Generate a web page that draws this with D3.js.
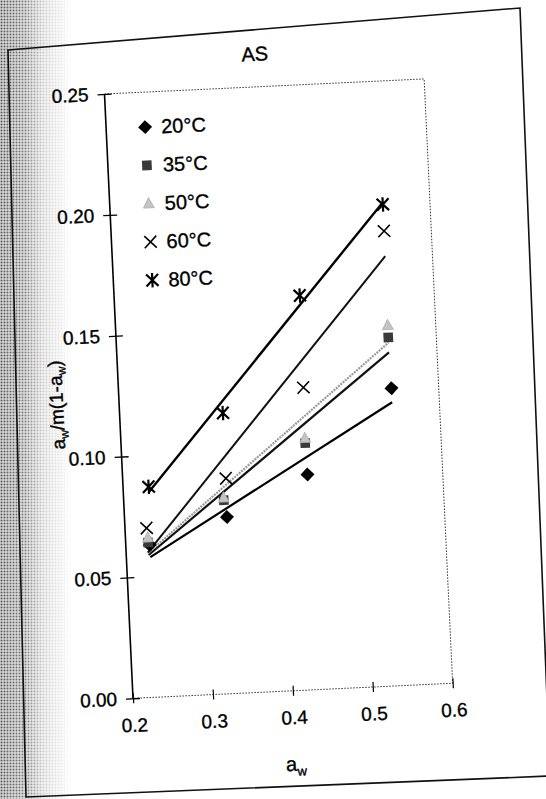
<!DOCTYPE html>
<html>
<head>
<meta charset="utf-8">
<script src="https://cdn.jsdelivr.net/npm/d3@7"></script>
<style>
  html, body { margin: 0; padding: 0; background: #fff; }
  svg { display: block; font-family: "Liberation Sans", Arial, sans-serif; }
  svg text { stroke: #000; stroke-width: 0.35px; }
</style>
</head>
<body>
<svg id="chart" width="546" height="799"></svg>
<script>
// Water activity (a_w) and a_w/m(1-a_w) for each storage temperature
const series = ["20°C", "35°C", "50°C", "60°C", "80°C"];
const aw20 = [0.230, 0.328, 0.431, 0.541];
const val20 = [0.063, 0.073, 0.089, 0.123];
const aw35 = [0.228, 0.325, 0.430, 0.540];
const val35 = [0.064, 0.080, 0.102, 0.144];
const aw50 = [0.228, 0.325, 0.430, 0.540];
const val50 = [0.066, 0.081, 0.104, 0.149];
const aw60 = [0.227, 0.329, 0.431, 0.541];
const val60 = [0.070, 0.089, 0.125, 0.188];
const aw80 = [0.232, 0.329, 0.432, 0.541];
const val80 = [0.087, 0.116, 0.163, 0.199];
const xTicks = [0.2, 0.3, 0.4, 0.5, 0.6];
const yTicks = [0.00, 0.05, 0.10, 0.15, 0.20, 0.25];

const awBySeries = [aw20, aw35, aw50, aw60, aw80];
const valBySeries = [val20, val35, val50, val60, val80];

const W = 320, H = 605;
const svg = d3.select("#chart");

// halftone shading along the left edge of the page
const defs = svg.append("defs");
const grad = defs.append("linearGradient").attr("id", "edge").attr("x1", 0).attr("x2", 1);
grad.append("stop").attr("offset", 0).attr("stop-color", "#fff").attr("stop-opacity", 1);
grad.append("stop").attr("offset", 0.35).attr("stop-color", "#fff").attr("stop-opacity", 0.75);
grad.append("stop").attr("offset", 0.6).attr("stop-color", "#fff").attr("stop-opacity", 0.3);
grad.append("stop").attr("offset", 1).attr("stop-color", "#fff").attr("stop-opacity", 0);
const dots = defs.append("pattern").attr("id", "dots").attr("width", 3).attr("height", 3)
  .attr("patternUnits", "userSpaceOnUse");
dots.append("rect").attr("width", 3).attr("height", 3).attr("fill", "#d6d6d6");
dots.append("circle").attr("cx", 1.5).attr("cy", 1.5).attr("r", 1.0).attr("fill", "#555");
const mask = defs.append("mask").attr("id", "edgeMask");
mask.append("rect").attr("width", 72).attr("height", 799).attr("fill", "url(#edge)");
svg.append("rect").attr("width", 72).attr("height", 799)
  .attr("fill", "url(#dots)").attr("mask", "url(#edgeMask)");

// page frame
svg.append("path")
  .attr("d", "M8,50 L520,8 L550,776 L26,797 Z")
  .attr("fill", "none").attr("stroke", "#111").attr("stroke-width", 1.6);

const g = svg.append("g").attr("transform", "translate(104.5,94) rotate(-2.7)");

const x = d3.scaleLinear().domain([0.2, 0.6]).range([0, W]);
const y = d3.scaleLinear().domain([0, 0.25]).range([H, 0]);

// dotted top, right and bottom edges of the plot area
g.append("path")
  .attr("d", `M0,0 H${W} V${H} H0`)
  .attr("fill", "none").attr("stroke", "#333").attr("stroke-width", 1)
  .attr("stroke-dasharray", "1.5,1.5");

// y axis: solid line with ticks crossing it
const yAxis = g.append("g").call(
  d3.axisLeft(y).tickValues(yTicks).tickFormat(d3.format(".2f")).tickSize(7).tickPadding(9)
);
yAxis.select(".domain").attr("d", `M0,0V${H}`).attr("stroke", "#000").attr("stroke-width", 1.6);
yAxis.selectAll(".tick line").attr("x1", 7).attr("stroke", "#000").attr("stroke-width", 1.3);
yAxis.selectAll(".tick text").attr("font-size", 19).attr("fill", "#000")
  .attr("font-family", "Liberation Sans, Arial, sans-serif");

// x axis: ticks crossing the dotted bottom edge
const xAxis = g.append("g").attr("transform", `translate(0,${H})`).call(
  d3.axisBottom(x).tickValues(xTicks).tickFormat(d3.format(".1f")).tickSize(5).tickPadding(15)
);
xAxis.select(".domain").remove();
xAxis.selectAll(".tick line").attr("y1", -5).attr("stroke", "#000").attr("stroke-width", 1.2);
xAxis.selectAll(".tick text").attr("font-size", 19).attr("fill", "#000")
  .attr("font-family", "Liberation Sans, Arial, sans-serif");

// title and axis titles
g.append("text").attr("x", 152).attr("y", -26).attr("text-anchor", "middle")
  .attr("font-size", 20).text("AS");

const xt = g.append("text").attr("x", x(0.4)).attr("y", H + 80).attr("text-anchor", "middle")
  .attr("font-size", 20);
xt.append("tspan").text("a");
xt.append("tspan").attr("font-size", 13).attr("dy", 5).text("w");

const yt = g.append("text").attr("transform", `translate(-56,${H / 2 + 6}) rotate(-90)`)
  .attr("text-anchor", "middle").attr("font-size", 19);
yt.append("tspan").text("a");
yt.append("tspan").attr("font-size", 12).attr("dy", 4).text("w");
yt.append("tspan").attr("dy", -4).text("/m(1-a");
yt.append("tspan").attr("font-size", 12).attr("dy", 4).text("w");
yt.append("tspan").attr("dy", -4).text(")");

// line styles per series
const lineStyle = [
  { stroke: "#000", width: 2.2, dash: null },
  { stroke: "#111", width: 2.2, dash: null },
  { stroke: "#9a9a9a", width: 2.2, dash: "2,1" },
  { stroke: "#111", width: 2.0, dash: null },
  { stroke: "#000", width: 2.4, dash: null }
];

function drawMarker(sel, k, s) {
  if (k === 0) {
    sel.append("path").attr("d", `M0,${-s}L${s},0L0,${s}L${-s},0Z`).attr("fill", "#000");
  } else if (k === 1) {
    sel.append("rect").attr("x", -s * 0.8).attr("y", -s * 0.8).attr("width", s * 1.6).attr("height", s * 1.6)
      .attr("fill", "#3a3a3a");
  } else if (k === 2) {
    sel.append("path").attr("d", `M0,${-s}L${s * 0.9},${s * 0.7}L${-s * 0.9},${s * 0.7}Z`)
      .attr("fill", "#c4c4c4").attr("stroke", "#aaa").attr("stroke-width", 0.8);
  } else if (k === 3) {
    sel.append("path").attr("d", `M${-s},${-s}L${s},${s}M${s},${-s}L${-s},${s}`)
      .attr("stroke", "#000").attr("stroke-width", 1.6).attr("fill", "none");
  } else {
    sel.append("path").attr("d", `M${-s},${-s}L${s},${s}M${s},${-s}L${-s},${s}M0,${-s * 1.2}L0,${s * 1.2}`)
      .attr("stroke", "#000").attr("stroke-width", 2.2).attr("fill", "none");
  }
}

// least-squares line for each series, drawn across its a_w range
function fit(xs, ys) {
  const mx = d3.mean(xs), my = d3.mean(ys);
  const sxy = d3.sum(xs, (v, i) => (v - mx) * (ys[i] - my));
  const sxx = d3.sum(xs, v => (v - mx) * (v - mx));
  const b = sxy / sxx;
  return { b, a: my - b * mx };
}

const line = d3.line().x(d => x(d[0])).y(d => y(d[1]));
series.forEach((name, k) => {
  const xs = awBySeries[k], ys = valBySeries[k];
  const f = fit(xs, ys);
  const x0 = d3.min(xs), x1 = d3.max(xs);
  const st = lineStyle[k];
  g.append("path")
    .attr("d", line([[x0, f.a + f.b * x0], [x1, f.a + f.b * x1]]))
    .attr("fill", "none").attr("stroke", st.stroke).attr("stroke-width", st.width)
    .attr("stroke-dasharray", st.dash);
});

series.forEach((name, k) => {
  const xs = awBySeries[k], ys = valBySeries[k];
  xs.forEach((v, i) => {
    const m = g.append("g").attr("transform", `translate(${x(v)},${y(ys[i])})`);
    drawMarker(m, k, k === 0 ? 7 : 6);
  });
});

// legend
const leg = g.append("g").attr("transform", "translate(39,35)");
series.forEach((name, k) => {
  const row = leg.append("g").attr("transform", `translate(0,${k * 38.3})`);
  drawMarker(row, k, k === 0 ? 7 : 6);
  row.append("text").attr("x", 16).attr("y", 7).attr("font-size", 20).text(name);
});
</script>
</body>
</html>
